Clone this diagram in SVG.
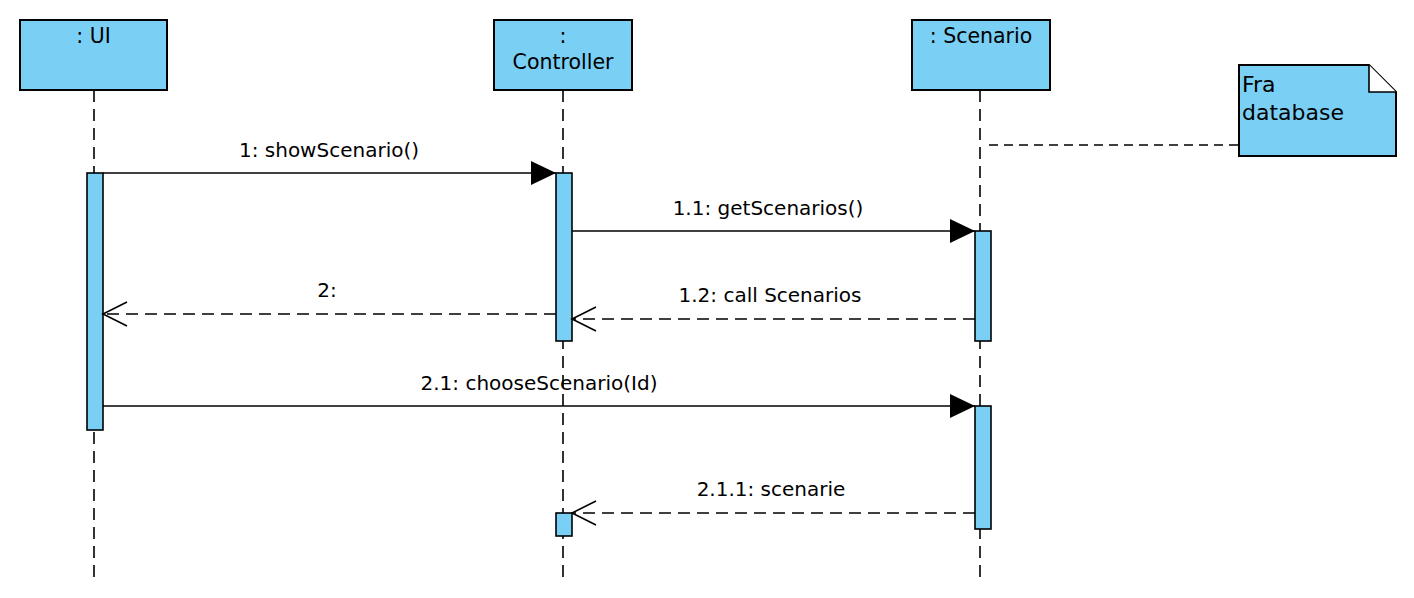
<svg xmlns="http://www.w3.org/2000/svg" width="1414" height="598" viewBox="0 0 1414 598">
<style>
.box{fill:#7ACFF5;stroke:#000;stroke-width:2}
.act{fill:#7ACFF5;stroke:#000;stroke-width:1.6}
.life{stroke:#000;stroke-width:1.6;stroke-dasharray:12,7;fill:none}
.msg{stroke:#000;stroke-width:1.6;fill:none}
.ret{stroke:#000;stroke-width:1.6;fill:none;stroke-dasharray:12,7}
.tb{font-family:"DejaVu Sans",sans-serif;font-size:20.5px;fill:#000;text-anchor:middle}
.tm{font-family:"DejaVu Sans",sans-serif;font-size:20px;fill:#000;text-anchor:middle}
.tn{font-family:"DejaVu Sans",sans-serif;font-size:22px;fill:#000}
</style>
<defs>
<marker id="fill" markerWidth="26" markerHeight="26" refX="25" refY="12" orient="auto" markerUnits="userSpaceOnUse">
<path d="M0,0 L25,12 L0,24 Z" fill="#000"/>
</marker>
<marker id="open" markerWidth="28" markerHeight="28" refX="26" refY="13" orient="auto" markerUnits="userSpaceOnUse">
<path d="M2,1 L26,13 L2,25" fill="none" stroke="#000" stroke-width="1.6"/>
</marker>
</defs>
<g id="lifelines">
<line class="life" x1="94" y1="90" x2="94" y2="578"/>
<line class="life" x1="563" y1="90" x2="563" y2="578"/>
<line class="life" x1="980" y1="90" x2="980" y2="578"/>
</g>
<g id="ui">
<rect class="box" x="20" y="20" width="147" height="70"/>
<text class="tb" x="93.5" y="43">: UI</text>
</g>
<g id="controller">
<rect class="box" x="494" y="20" width="138" height="70"/>
<text class="tb" x="563" y="43">:</text>
<text class="tb" x="563" y="69">Controller</text>
</g>
<g id="scenario">
<rect class="box" x="912" y="20" width="138" height="70"/>
<text class="tb" x="981" y="43">: Scenario</text>
</g>
<g id="note">
<path class="box" d="M1239,65 L1369,65 L1396,92 L1396,156 L1239,156 Z"/>
<path d="M1369,65 L1369,92 L1396,92" fill="#fff" stroke="#000" stroke-width="1.6"/>
<text class="tn" x="1242" y="92">Fra</text>
<text class="tn" x="1242" y="120">database</text>
</g>
<g id="activations">
<rect class="act" x="87" y="173" width="16" height="257"/>
<rect class="act" x="556" y="173" width="16" height="168"/>
<rect class="act" x="975" y="231" width="16" height="110"/>
<rect class="act" x="975" y="406" width="16" height="123"/>
<rect class="act" x="556" y="513" width="16" height="23"/>
</g>
<g id="connectors">
<line x1="989" y1="145" x2="1239" y2="145" stroke="#000" stroke-width="1.6" stroke-dasharray="9,6"/>
<line class="msg" x1="103" y1="173" x2="556" y2="173" marker-end="url(#fill)"/>
<text class="tm" x="329" y="157">1: showScenario()</text>
<line class="msg" x1="572" y1="231" x2="975" y2="231" marker-end="url(#fill)"/>
<text class="tm" x="768" y="215">1.1: getScenarios()</text>
<line class="ret" x1="556" y1="314" x2="103" y2="314" marker-end="url(#open)"/>
<text class="tm" x="327" y="297">2:</text>
<line class="ret" x1="975" y1="319" x2="572" y2="319" marker-end="url(#open)"/>
<text class="tm" x="770" y="302">1.2: call Scenarios</text>
<line class="msg" x1="103" y1="406" x2="975" y2="406" marker-end="url(#fill)"/>
<text class="tm" x="539" y="390">2.1: chooseScenario(Id)</text>
<line class="ret" x1="975" y1="513" x2="572" y2="513" marker-end="url(#open)"/>
<text class="tm" x="771" y="496">2.1.1: scenarie</text>
</g>
</svg>
